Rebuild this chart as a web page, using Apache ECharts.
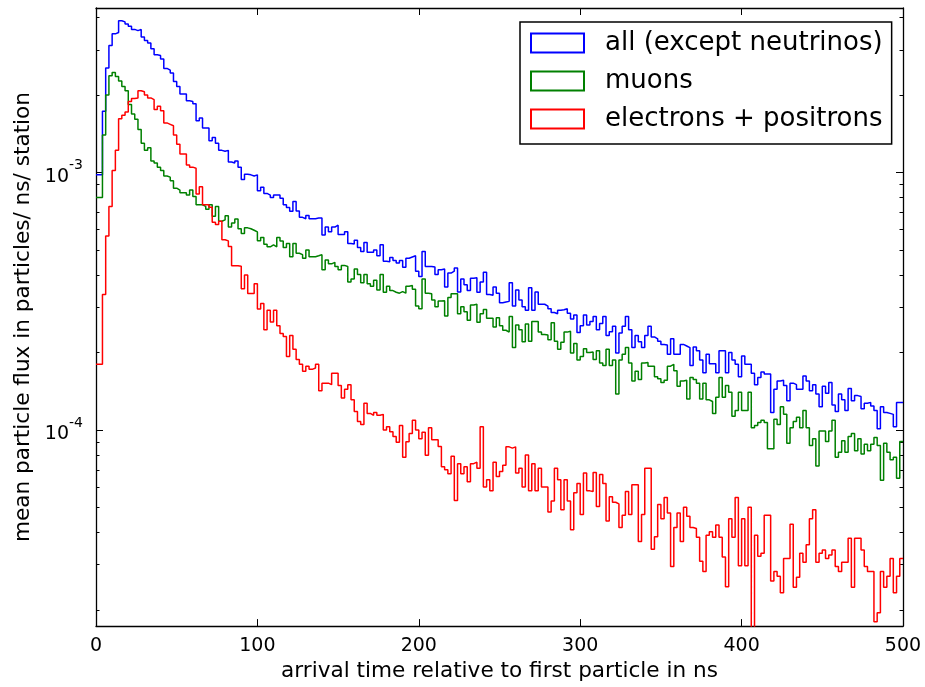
<!DOCTYPE html>
<html>
<head>
<meta charset="utf-8">
<script src="https://cdn.jsdelivr.net/npm/echarts@6/dist/echarts.min.js"></script>
<style>
html,body{margin:0;padding:0;background:#ffffff;}
#chart{width:925px;height:687px;}
</style>
</head>
<body>
<div id="chart"></div>
<script>
// ---- data ----
const binWidthNs = 2;                 // histogram bin width (ns)
const xTickValues = [0, 100, 200, 300, 400, 500];
const yMajorTicks = [1e-4, 1e-3];
const yMinorTicks = [2e-5, 3e-5, 4e-5, 5e-5, 6e-5, 7e-5, 8e-5, 9e-5,
                     2e-4, 3e-4, 4e-4, 5e-4, 6e-4, 7e-4, 8e-4, 9e-4,
                     2e-3, 3e-3, 4e-3];
const seriesNames = ['all (except neutrinos)', 'muons', 'electrons + positrons'];

const allParticles = [
  9.8e-4, 9.8e-4, 1.73e-3, 2.55e-3, 3.12e-3, 3.46e-3, 3.5e-3, 3.89e-3, 3.85e-3, 3.78e-3,
  3.7e-3, 3.6e-3, 3.56e-3, 3.6e-3, 3.36e-3, 3.26e-3, 3.19e-3, 3.03e-3, 2.87e-3, 2.85e-3,
  2.76e-3, 2.54e-3, 2.5e-3, 2.44e-3, 2.26e-3, 2.16e-3, 2.02e-3, 2.02e-3, 1.9e-3, 1.89e-3,
  1.85e-3, 1.59e-3, 1.63e-3, 1.49e-3, 1.49e-3, 1.33e-3, 1.37e-3, 1.3e-3, 1.22e-3, 1.21e-3,
  1.22e-3, 1.1e-3, 1.09e-3, 1.11e-3, 1.05e-3, 9.4e-4, 9.85e-4, 9.8e-4, 9.7e-4, 9.8e-4,
  8.5e-4, 8.77e-4,
  8.3e-4, 8.18e-4, 8.0e-4, 8.18e-4, 8.18e-4, 7.95e-4, 7.5e-4, 7.32e-4, 7.07e-4, 7.72e-4,
  7.1e-4, 6.7e-4, 6.62e-4, 6.82e-4, 6.62e-4, 6.62e-4, 6.66e-4, 6.66e-4, 5.72e-4, 6.14e-4,
  5.89e-4, 6.14e-4, 6.25e-4, 5.75e-4, 5.75e-4, 5.89e-4, 5.3e-4, 5.28e-4, 5.46e-4, 5.12e-4,
  4.94e-4, 5.35e-4, 4.9e-4, 4.9e-4, 5.0e-4, 4.75e-4, 5.24e-4, 4.52e-4, 4.5e-4, 4.68e-4,
  4.55e-4, 4.45e-4, 4.55e-4, 4.29e-4, 4.65e-4, 4.7e-4, 4.75e-4, 4.14e-4, 3.95e-4, 4.94e-4,
  4.32e-4,
  4.32e-4, 4.3e-4, 4.02e-4, 4.19e-4, 4.22e-4, 3.59e-4, 4.07e-4, 4.14e-4, 4.26e-4, 3.44e-4,
  3.86e-4, 3.67e-4, 3.48e-4, 3.89e-4, 3.9e-4, 3.43e-4, 3.76e-4, 4.1e-4, 3.36e-4, 3.34e-4,
  3.59e-4, 3.4e-4, 3.12e-4, 3.14e-4, 3.16e-4, 3.73e-4, 3.03e-4, 3.5e-4, 3.2e-4, 3.01e-4,
  2.92e-4, 3.57e-4, 2.92e-4, 3.44e-4, 3.08e-4, 3.08e-4, 3.03e-4, 2.96e-4, 2.86e-4, 2.83e-4,
  2.92e-4, 2.93e-4, 2.96e-4, 2.84e-4, 2.7e-4, 2.8e-4, 2.39e-4, 2.54e-4, 2.8e-4, 2.56e-4,
  2.64e-4, 2.76e-4, 2.45e-4, 2.59e-4, 2.76e-4, 2.33e-4, 2.41e-4, 2.53e-4, 1.99e-4, 2.38e-4,
  2.53e-4, 2.76e-4, 2.45e-4, 2.09e-4, 2.33e-4, 2.2e-4, 2.09e-4, 2.33e-4, 2.53e-4, 2.3e-4,
  2.26e-4, 2.21e-4, 2.15e-4, 2.14e-4, 1.97e-4, 2.26e-4, 1.97e-4, 1.97e-4, 2.15e-4, 2.12e-4,
  2.09e-4, 1.78e-4, 2.1e-4, 2.03e-4, 1.87e-4, 1.67e-4, 1.97e-4, 1.81e-4, 1.81e-4, 1.67e-4,
  2.03e-4, 2.03e-4, 1.67e-4, 2.0e-4, 1.87e-4, 1.8e-4, 1.61e-4, 1.94e-4, 1.8e-4, 1.8e-4,
  1.66e-4,
  1.5e-4, 1.6e-4, 1.68e-4, 1.65e-4, 1.65e-4, 1.17e-4, 1.44e-4, 1.55e-4, 1.56e-4, 1.49e-4,
  1.3e-4, 1.52e-4, 1.5e-4, 1.44e-4, 1.44e-4, 1.62e-4, 1.55e-4, 1.42e-4, 1.5e-4, 1.38e-4,
  1.23e-4, 1.48e-4, 1.39e-4, 1.53e-4, 1.25e-4, 1.18e-4, 1.38e-4, 1.31e-4, 1.19e-4, 1.45e-4,
  1.3e-4, 1.36e-4, 1.35e-4, 1.21e-4, 1.27e-4, 1.28e-4, 1.24e-4, 1.19e-4, 1.01e-4, 1.23e-4,
  1.17e-4, 1.16e-4, 1.15e-4, 1.03e-4, 1.28e-4, 1.28e-4
];

const muons = [
  8.0e-4, 8.0e-4, 1.4e-3, 2.0e-3, 2.38e-3, 2.45e-3, 2.36e-3, 2.27e-3, 2.16e-3, 2.08e-3,
  1.84e-3, 1.69e-3, 1.61e-3, 1.47e-3, 1.3e-3, 1.22e-3, 1.25e-3, 1.11e-3, 1.09e-3, 1.05e-3,
  1.02e-3, 9.7e-4, 9.6e-4, 9.3e-4, 8.7e-4, 8.55e-4, 8.35e-4, 8.35e-4, 8.18e-4, 8.55e-4,
  8.07e-4, 7.5e-4, 7.5e-4, 7.39e-4, 7.2e-4, 7.5e-4, 6.77e-4, 7.39e-4, 6.47e-4, 6.55e-4,
  6.8e-4, 6.15e-4, 6.37e-4, 6.6e-4, 6.05e-4, 5.8e-4, 6.1e-4, 6.05e-4, 5.97e-4, 5.88e-4,
  5.43e-4, 5.59e-4,
  5.27e-4, 5.15e-4, 5.24e-4, 5.15e-4, 5.59e-4, 5.42e-4, 5.12e-4, 5.3e-4, 4.71e-4, 5.3e-4,
  4.86e-4, 4.8e-4, 4.65e-4, 5.0e-4, 4.71e-4, 4.71e-4, 4.75e-4, 4.8e-4, 4.19e-4, 4.58e-4,
  4.42e-4, 4.48e-4, 4.32e-4, 4.19e-4, 4.36e-4, 4.32e-4, 3.76e-4, 3.86e-4, 4.22e-4, 4.02e-4,
  3.73e-4, 4.02e-4, 3.7e-4, 3.62e-4, 3.82e-4, 3.5e-4, 4.02e-4, 3.43e-4, 3.62e-4, 3.48e-4,
  3.43e-4, 3.4e-4, 3.45e-4, 3.4e-4, 3.62e-4, 3.64e-4, 3.52e-4, 3.03e-4, 2.96e-4, 3.86e-4,
  3.4e-4,
  3.38e-4, 3.2e-4, 3.01e-4, 3.17e-4, 3.18e-4, 2.77e-4, 3.27e-4, 3.38e-4, 3.38e-4, 2.83e-4,
  3.01e-4, 2.88e-4, 2.67e-4, 3.06e-4, 3.08e-4, 2.62e-4, 2.83e-4, 2.94e-4, 2.72e-4, 2.72e-4,
  2.51e-4, 2.73e-4, 2.54e-4, 2.44e-4, 2.4e-4, 2.76e-4, 2.09e-4, 2.56e-4, 2.45e-4, 2.2e-4,
  2.58e-4, 2.21e-4, 2.64e-4, 2.64e-4, 2.4e-4, 2.35e-4, 2.34e-4, 2.24e-4, 2.61e-4, 2.21e-4,
  2.06e-4, 2.19e-4, 2.4e-4, 2.42e-4, 1.99e-4, 2.17e-4, 1.87e-4, 1.93e-4, 2.07e-4, 2.0e-4,
  2.01e-4, 1.88e-4, 2.03e-4, 1.82e-4, 1.78e-4, 2.06e-4, 1.78e-4, 1.87e-4, 1.38e-4, 1.87e-4,
  1.97e-4, 2.09e-4, 1.82e-4, 1.55e-4, 1.69e-4, 1.57e-4, 1.82e-4, 1.83e-4, 1.77e-4, 1.77e-4,
  1.61e-4, 1.58e-4, 1.53e-4, 1.56e-4, 1.77e-4, 1.8e-4, 1.7e-4, 1.48e-4, 1.55e-4, 1.56e-4,
  1.32e-4, 1.6e-4, 1.57e-4, 1.52e-4, 1.32e-4, 1.52e-4, 1.31e-4, 1.29e-4, 1.16e-4, 1.34e-4,
  1.6e-4, 1.34e-4, 1.49e-4, 1.4e-4, 1.13e-4, 1.19e-4, 1.4e-4, 1.19e-4, 1.19e-4, 1.4e-4,
  1.02e-4,
  1.04e-4, 1.07e-4, 1.09e-4, 1.07e-4, 8.45e-5, 8.45e-5, 1.1e-4, 1.05e-4, 1.23e-4, 1.15e-4,
  8.89e-5, 1.02e-4, 1.08e-4, 1.12e-4, 1.02e-4, 1.19e-4, 1.02e-4, 8.7e-5, 9.25e-5, 7.24e-5,
  9.9e-5, 9.9e-5, 9.02e-5, 9.9e-5, 1.09e-4, 7.83e-5, 8.2e-5, 9.08e-5, 8.2e-5, 9.44e-5,
  9.7e-5, 8.3e-5, 9.25e-5, 8.06e-5, 8.81e-5, 8.3e-5, 8.81e-5, 9.36e-5, 8.7e-5, 6.38e-5,
  8.89e-5, 8.2e-5, 7.67e-5, 7.83e-5, 6.5e-5, 9.02e-5
];

const electronsPositrons = [
  1.8e-4, 1.8e-4, 3.36e-4, 5.67e-4, 7.39e-4, 1.02e-3, 1.22e-3, 1.62e-3, 1.67e-3, 1.72e-3,
  1.89e-3, 1.94e-3, 1.95e-3, 2.08e-3, 2.06e-3, 2.0e-3, 1.95e-3, 1.92e-3, 1.76e-3, 1.81e-3,
  1.74e-3, 1.56e-3, 1.54e-3, 1.52e-3, 1.4e-3, 1.29e-3, 1.18e-3, 1.18e-3, 1.07e-3, 1.05e-3,
  1.04e-3, 8.26e-4, 8.82e-4, 7.5e-4, 7.5e-4, 7.34e-4, 6.41e-4, 6.28e-4, 6.47e-4, 5.48e-4,
  5.43e-4, 5.16e-4, 4.35e-4, 4.35e-4, 4.33e-4, 3.54e-4, 4.0e-4, 3.39e-4, 3.39e-4, 3.7e-4,
  2.95e-4, 3.1e-4,
  2.45e-4, 2.92e-4, 2.63e-4, 2.92e-4, 2.54e-4, 2.37e-4, 2.31e-4, 1.93e-4, 2.33e-4, 2.06e-4,
  1.88e-4, 1.8e-4, 1.69e-4, 1.77e-4, 1.72e-4, 1.74e-4, 1.8e-4, 1.42e-4, 1.52e-4, 1.52e-4,
  1.5e-4, 1.66e-4, 1.66e-4, 1.49e-4, 1.33e-4, 1.44e-4, 1.5e-4, 1.31e-4, 1.18e-4, 1.08e-4,
  1.05e-4, 1.27e-4, 1.16e-4, 1.14e-4, 1.17e-4, 1.14e-4, 1.15e-4, 1.0e-4, 1.03e-4, 9.85e-5,
  9.44e-5, 8.97e-5, 1.04e-4, 7.83e-5, 9.0e-5, 9.7e-5, 1.09e-4, 1.0e-4, 9.25e-5, 9.8e-5,
  7.97e-5,
  1.02e-4, 9.17e-5, 9.17e-5, 8.62e-5, 7.2e-5, 7.0e-5, 6.76e-5, 7.9e-5, 5.32e-5, 7.4e-5,
  6.76e-5, 7.2e-5, 6.3e-5, 7.4e-5, 7.5e-5, 7.1e-5, 1.03e-4, 6.0e-5, 6.4e-5, 5.8e-5,
  7.5e-5, 6.6e-5, 6.9e-5, 7.3e-5, 8.6e-5, 8.5e-5, 8.6e-5, 6.8e-5, 7.1e-5, 6.0e-5,
  8.0e-5, 5.8e-5, 7.4e-5, 5.8e-5, 7.1e-5, 6.0e-5, 6.0e-5, 4.8e-5, 5.3e-5, 7.1e-5,
  6.4e-5, 4.9e-5, 6.4e-5, 5.3e-5, 4.1e-5, 5.7e-5, 6.2e-5, 4.7e-5, 6.8e-5, 5.8e-5,
  5.77e-5, 6.84e-5, 5.04e-5, 6.72e-5, 6.2e-5, 4.43e-5, 5.5e-5, 5.24e-5, 5.16e-5, 4.18e-5,
  4.66e-5, 5.77e-5, 4.7e-5, 6.12e-5, 6.12e-5, 3.69e-5, 4.7e-5, 7.1e-5, 7.1e-5, 3.44e-5,
  3.85e-5, 5.13e-5, 4.52e-5, 5.47e-5, 4.76e-5, 2.95e-5, 4.18e-5, 4.76e-5, 3.69e-5, 5.01e-5,
  4.62e-5, 4.18e-5, 4.14e-5, 3.83e-5, 3.09e-5, 2.82e-5, 3.9e-5, 4.02e-5, 3.83e-5, 4.27e-5,
  3.83e-5, 3.21e-5, 2.46e-5, 4.52e-5, 3.83e-5, 5.47e-5, 2.97e-5, 4.52e-5, 2.97e-5, 5.01e-5,
  1.6e-5, 3.9e-5,
  3.23e-5, 3.32e-5, 4.66e-5, 4.66e-5, 2.59e-5, 2.82e-5, 2.7e-5, 2.33e-5, 3.17e-5, 3.17e-5,
  4.3e-5, 2.45e-5, 2.68e-5, 3.32e-5, 3.06e-5, 3.58e-5, 4.52e-5, 4.9e-5, 3.06e-5, 3.32e-5,
  3.42e-5, 3.17e-5, 3.27e-5, 3.42e-5, 2.95e-5, 2.82e-5, 3.06e-5, 3.06e-5, 3.8e-5, 2.45e-5,
  3.8e-5, 3.8e-5, 3.42e-5, 2.95e-5, 2.82e-5, 2.82e-5, 1.8e-5, 1.95e-5, 2.82e-5, 2.45e-5,
  2.7e-5, 3.17e-5, 2.33e-5, 2.7e-5, 3.17e-5
];

const seriesColors = ['#0000ff', '#008000', '#ff0000'];
const yMin = 1.73e-5, yMax = 4.36e-3;

// step points from bin left edges (plus closing right edge)
function stepPoints(vals) {
  const pts = vals.map((v, i) => [i * binWidthNs, v]);
  pts.push([vals.length * binWidthNs, vals[vals.length - 1]]);
  return pts;
}

const FONT = 'DejaVu Sans';
const black = '#000000';

function logAxis(pos, ticks, len, showLine, withLabels) {
  const ax = {
    type: 'log', logBase: 10, position: pos, min: yMin, max: yMax, gridIndex: 0,
    axisLine: {show: showLine, lineStyle: {color: black, width: 1.3}},
    axisTick: {show: true, inside: true, length: len, customValues: ticks,
               lineStyle: {color: black, width: 1}},
    axisLabel: {show: false},
    splitLine: {show: false},
    minorTick: {show: false}
  };
  if (withLabels) {
    ax.axisLabel = {
      show: true, customValues: yMajorTicks, margin: 13,
      fontSize: 19, fontFamily: FONT, color: black,
      formatter: function (v) {
        const e = Math.round(Math.log10(v));
        return '{b|10}{s|' + e + '}';
      },
      rich: {
        b: {fontSize: 19, fontFamily: FONT, color: black, lineHeight: 28, verticalAlign: 'bottom'},
        s: {fontSize: 14, fontFamily: FONT, color: black, lineHeight: 12, verticalAlign: 'top'}
      }
    };
    ax.name = 'mean particle flux in particles/ ns/ station';
    ax.nameLocation = 'middle';
    ax.nameGap = 57;
    ax.nameTextStyle = {fontSize: 21.6, fontFamily: FONT, color: black};
  }
  return ax;
}

const chart = echarts.init(document.getElementById('chart'), null, {renderer: 'canvas'});
chart.setOption({
  animation: false,
  backgroundColor: '#ffffff',
  textStyle: {fontFamily: FONT},
  grid: {left: 96, right: 22, top: 8, bottom: 54, containLabel: false},
  legend: {
    orient: 'vertical', left: 520, top: 22,
    padding: [8, 9, 12, 10], itemGap: 12, itemWidth: 53, itemHeight: 19,
    icon: 'rect', selectedMode: false,
    borderColor: black, borderWidth: 1.5, backgroundColor: '#ffffff',
    textStyle: {fontSize: 26, fontFamily: FONT, color: black, padding: [0, 0, 0, 16]},
    itemStyle: {color: '#ffffff', borderWidth: 2},
    data: seriesNames.map((n, i) => ({name: n, itemStyle: {color: '#ffffff', borderColor: seriesColors[i], borderWidth: 2}}))
  },
  xAxis: [
    {
      type: 'value', position: 'bottom', min: xTickValues[0], max: xTickValues[xTickValues.length - 1], interval: 100,
      axisLine: {show: true, onZero: false, lineStyle: {color: black, width: 1.3}},
      axisTick: {show: true, inside: true, length: 7, lineStyle: {color: black, width: 1}},
      axisLabel: {show: true, fontSize: 19, fontFamily: FONT, color: black, margin: 10},
      splitLine: {show: false},
      name: 'arrival time relative to first particle in ns',
      nameLocation: 'middle', nameGap: 29,
      nameTextStyle: {fontSize: 21.6, fontFamily: FONT, color: black, verticalAlign: 'top'}
    },
    {
      type: 'value', position: 'top', min: xTickValues[0], max: xTickValues[xTickValues.length - 1], interval: 100,
      axisLine: {show: true, onZero: false, lineStyle: {color: black, width: 1.3}},
      axisTick: {show: true, inside: true, length: 7, lineStyle: {color: black, width: 1}},
      axisLabel: {show: false},
      splitLine: {show: false}
    }
  ],
  yAxis: [
    logAxis('left', yMajorTicks, 7, true, true),
    logAxis('left', yMinorTicks, 3.5, false, false),
    logAxis('right', yMajorTicks, 7, true, false),
    logAxis('right', yMinorTicks, 3.5, false, false)
  ],
  series: [allParticles, muons, electronsPositrons].map((vals, i) => ({
    name: seriesNames[i],
    type: 'line',
    xAxisIndex: 0, yAxisIndex: 0,
    step: 'end',
    showSymbol: false, symbol: 'none',
    clip: true,
    color: seriesColors[i],
    lineStyle: {color: seriesColors[i], width: 1.5},
    itemStyle: {color: seriesColors[i]},
    emphasis: {disabled: true},
    data: stepPoints(vals)
  }))
});
</script>
</body>
</html>
